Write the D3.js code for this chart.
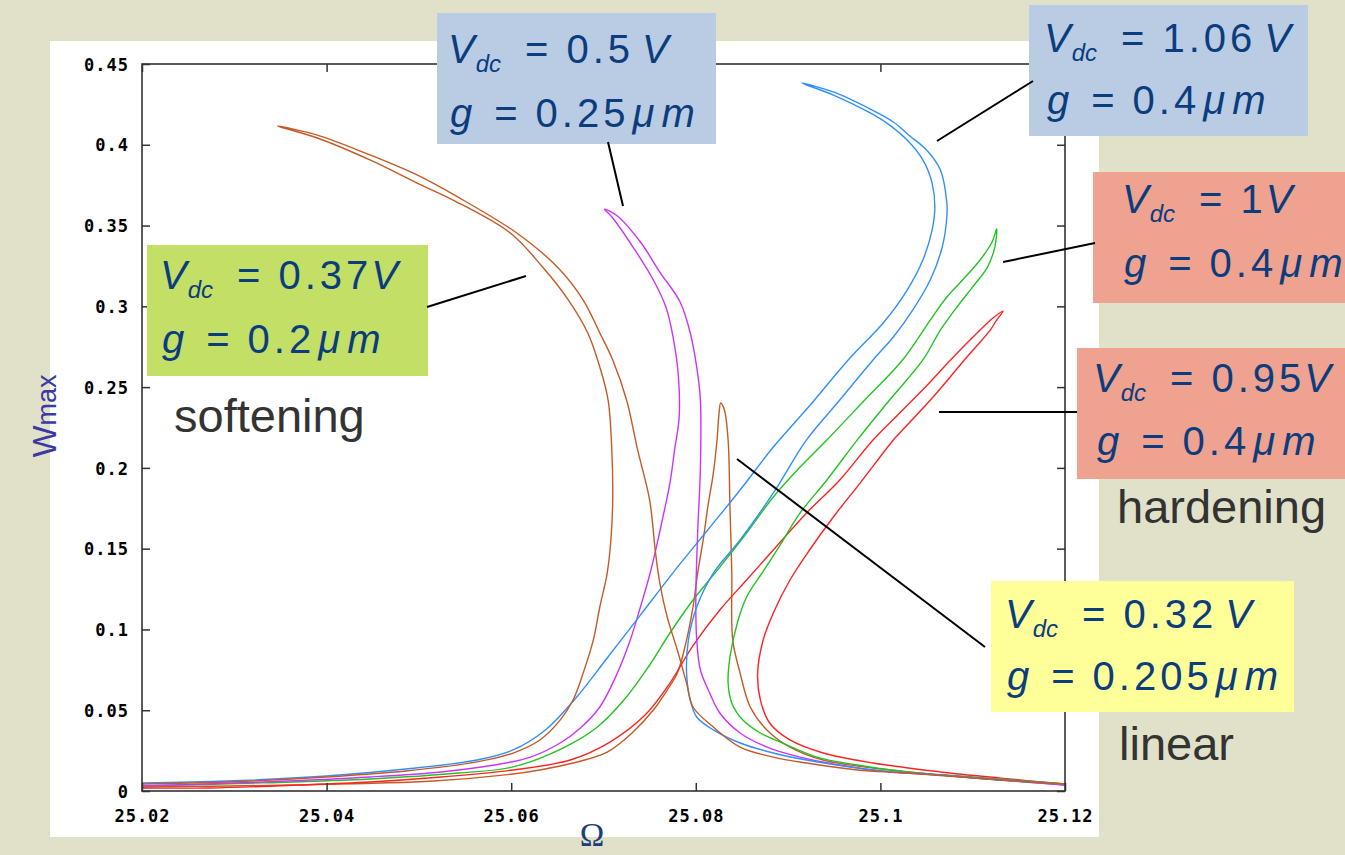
<!DOCTYPE html>
<html>
<head>
<meta charset="utf-8">
<script src="https://cdn.jsdelivr.net/npm/d3@7"></script>
<style>
  body { margin: 0; background: #e1e1c9; }
  svg { display: block; }
</style>
</head>
<body>
<div id="chart"></div>
<script>
"use strict";

// [Omega, w_max] points, one continuation path per curve
var soft037 = [
  [25.0200,0.0043],[25.0292,0.0056],[25.0400,0.0087],[25.0486,0.0124],[25.0563,0.0180],
  [25.0602,0.0235],[25.0631,0.0316],[25.0653,0.0439],[25.0667,0.0563],[25.0678,0.0730],
  [25.0689,0.0935],[25.0696,0.1139],[25.0704,0.1349],[25.0708,0.1554],[25.0710,0.1801],
  [25.0709,0.2111],[25.0705,0.2420],[25.0696,0.2624],[25.0683,0.2835],[25.0662,0.3039],
  [25.0634,0.3243],[25.0599,0.3454],[25.0537,0.3658],[25.0498,0.3763],[25.0447,0.3906],
  [25.0390,0.4042],[25.0347,0.4116],[25.0390,0.4060],[25.0447,0.3937],[25.0498,0.3813],
  [25.0542,0.3677],[25.0606,0.3454],[25.0650,0.3243],[25.0678,0.3039],[25.0696,0.2835],
  [25.0710,0.2668],[25.0725,0.2420],[25.0737,0.2111],[25.0750,0.1801],[25.0756,0.1492],
  [25.0761,0.1287],[25.0769,0.1077],[25.0780,0.0873],[25.0790,0.0668],[25.0797,0.0520],
  [25.0819,0.0396],[25.0848,0.0272],[25.0884,0.0210],[25.0920,0.0173],[25.0975,0.0130],
  [25.1029,0.0111],[25.1130,0.0068],[25.1200,0.0043]
];

var lin032 = [
  [25.0200,0.0025],[25.0361,0.0037],[25.0516,0.0062],[25.0602,0.0105],[25.0631,0.0130],
  [25.0667,0.0173],[25.0704,0.0241],[25.0732,0.0365],[25.0754,0.0501],[25.0769,0.0625],
  [25.0780,0.0730],[25.0790,0.0935],[25.0797,0.1139],[25.0802,0.1349],[25.0808,0.1554],
  [25.0813,0.1758],[25.0819,0.1968],[25.0823,0.2173],[25.0825,0.2327],[25.0827,0.2402],
  [25.0831,0.2358],[25.0835,0.2173],[25.0837,0.1758],[25.0839,0.1349],[25.0840,0.0935],
  [25.0848,0.0730],[25.0859,0.0520],[25.0877,0.0378],[25.0902,0.0272],[25.0938,0.0192],
  [25.0992,0.0142],[25.1065,0.0099],[25.1200,0.0037]
];

var vdc050 = [
  [25.0200,0.0031],[25.0331,0.0056],[25.0447,0.0087],[25.0524,0.0118],[25.0582,0.0161],
  [25.0621,0.0210],[25.0653,0.0297],[25.0675,0.0390],[25.0696,0.0520],[25.0715,0.0730],
  [25.0729,0.0935],[25.0740,0.1139],[25.0750,0.1337],[25.0759,0.1554],[25.0766,0.1739],
  [25.0772,0.1906],[25.0777,0.2111],[25.0782,0.2315],[25.0781,0.2575],[25.0776,0.2790],
  [25.0768,0.2990],[25.0754,0.3163],[25.0732,0.3367],[25.0710,0.3547],[25.0701,0.3602],
  [25.0715,0.3559],[25.0740,0.3398],[25.0761,0.3212],[25.0783,0.3027],[25.0794,0.2835],
  [25.0801,0.2624],[25.0805,0.2420],[25.0805,0.2005],[25.0802,0.1597],[25.0800,0.1182],
  [25.0801,0.0935],[25.0805,0.0749],[25.0815,0.0607],[25.0826,0.0483],[25.0848,0.0359],
  [25.0877,0.0272],[25.0913,0.0210],[25.0956,0.0161],[25.1010,0.0118],[25.1065,0.0099],
  [25.1200,0.0037]
];

var vdc106 = [
  [25.0200,0.0050],[25.0292,0.0062],[25.0400,0.0093],[25.0486,0.0136],[25.0563,0.0192],
  [25.0602,0.0254],[25.0637,0.0378],[25.0671,0.0582],[25.0704,0.0823],[25.0740,0.1089],
  [25.0775,0.1349],[25.0812,0.1609],[25.0848,0.1863],[25.0884,0.2129],[25.0924,0.2389],
  [25.0967,0.2680],[25.1003,0.2897],[25.1029,0.3101],[25.1046,0.3287],[25.1056,0.3472],
  [25.1059,0.3615],[25.1056,0.3763],[25.1046,0.3906],[25.1029,0.4029],[25.1010,0.4122],
  [25.0989,0.4197],[25.0949,0.4308],[25.0915,0.4382],[25.0949,0.4327],[25.0989,0.4221],
  [25.1014,0.4141],[25.1032,0.4054],[25.1050,0.3968],[25.1065,0.3844],[25.1072,0.3640],
  [25.1072,0.3553],[25.1067,0.3367],[25.1054,0.3163],[25.1035,0.2977],[25.1014,0.2810],
  [25.0992,0.2668],[25.0956,0.2420],[25.0920,0.2173],[25.0884,0.1845],[25.0848,0.1554],
  [25.0819,0.1349],[25.0801,0.1139],[25.0792,0.0935],[25.0790,0.0730],[25.0794,0.0563],
  [25.0801,0.0458],[25.0819,0.0378],[25.0848,0.0297],[25.0884,0.0235],[25.0920,0.0192],
  [25.0992,0.0130],[25.1065,0.0099],[25.1130,0.0068],[25.1200,0.0043]
];

var vdc100 = [
  [25.0200,0.0031],[25.0331,0.0050],[25.0447,0.0074],[25.0543,0.0111],[25.0602,0.0149],
  [25.0656,0.0266],[25.0692,0.0390],[25.0724,0.0576],[25.0750,0.0780],[25.0772,0.0978],
  [25.0797,0.1182],[25.0826,0.1386],[25.0855,0.1597],[25.0884,0.1820],[25.0913,0.2005],
  [25.0942,0.2173],[25.0983,0.2420],[25.1024,0.2668],[25.1054,0.2915],[25.1072,0.3058],
  [25.1089,0.3163],[25.1108,0.3287],[25.1121,0.3398],[25.1126,0.3479],[25.1124,0.3367],
  [25.1116,0.3243],[25.1100,0.3120],[25.1083,0.2996],[25.1065,0.2853],[25.1046,0.2668],
  [25.1010,0.2420],[25.0975,0.2173],[25.0942,0.1925],[25.0913,0.1721],[25.0890,0.1510],
  [25.0874,0.1368],[25.0855,0.1201],[25.0845,0.1040],[25.0837,0.0829],[25.0835,0.0668],
  [25.0839,0.0545],[25.0851,0.0439],[25.0870,0.0359],[25.0894,0.0297],[25.0931,0.0210],
  [25.0975,0.0161],[25.1029,0.0118],[25.1100,0.0087],[25.1200,0.0043]
];

var vdc095 = [
  [25.0200,0.0019],[25.0273,0.0019],[25.0370,0.0037],[25.0447,0.0056],[25.0524,0.0087],
  [25.0602,0.0130],[25.0664,0.0192],[25.0707,0.0303],[25.0745,0.0470],[25.0771,0.0660],
  [25.0797,0.0900],[25.0826,0.1120],[25.0855,0.1306],[25.0884,0.1492],[25.0920,0.1721],
  [25.0956,0.1925],[25.0992,0.2173],[25.1021,0.2340],[25.1054,0.2532],[25.1076,0.2668],
  [25.1108,0.2853],[25.1122,0.2928],[25.1133,0.2971],[25.1126,0.2915],[25.1119,0.2853],
  [25.1091,0.2668],[25.1059,0.2451],[25.1021,0.2216],[25.1014,0.2173],[25.0978,0.1906],
  [25.0949,0.1696],[25.0924,0.1498],[25.0902,0.1306],[25.0884,0.1102],[25.0873,0.0935],
  [25.0867,0.0730],[25.0870,0.0563],[25.0880,0.0421],[25.0902,0.0316],[25.0938,0.0235],
  [25.0992,0.0173],[25.1065,0.0118],[25.1130,0.0080],[25.1200,0.0043]
];

var xTicks = [25.02, 25.04, 25.06, 25.08, 25.1, 25.12];
var xTickLabels = ["25.02", "25.04", "25.06", "25.08", "25.1", "25.12"];
var yTicks = [0, 0.05, 0.1, 0.15, 0.2, 0.25, 0.3, 0.35, 0.4, 0.45];
var yTickLabels = ["0", "0.05", "0.1", "0.15", "0.2", "0.25", "0.3", "0.35", "0.4", "0.45"];

// annotation texts, in drawing order
var vdcLabels = ["0.37V", "0.5 V", "1.06 V", "1V", "0.95V", "0.32 V"];
var gapLabels = ["0.2", "0.25", "0.4", "0.4", "0.4", "0.205"];
var regimeLabels = ["softening", "hardening", "linear"];

// == layout ==
var W = 1345, H = 855;
var plot = { left: 142, right: 1065, top: 64, bottom: 791 };

var svg = d3.select("#chart").append("svg")
    .attr("width", W).attr("height", H);

svg.append("rect").attr("width", W).attr("height", H).attr("fill", "#e1e1c9");
svg.append("rect").attr("x", 50).attr("y", 41).attr("width", 1049).attr("height", 796)
    .attr("fill", "#fff");

var x = d3.scaleLinear().domain([25.02, 25.12]).range([plot.left, plot.right]);
var y = d3.scaleLinear().domain([0, 0.45]).range([plot.bottom, plot.top]);

svg.append("clipPath").attr("id", "clip").append("rect")
    .attr("x", plot.left).attr("y", plot.top)
    .attr("width", plot.right - plot.left).attr("height", plot.bottom - plot.top);

var line = d3.line()
    .x(function (d) { return x(d[0]); })
    .y(function (d) { return y(d[1]); })
    .curve(d3.curveCatmullRom.alpha(0.5));

var series = [
  { data: lin032, color: "#c55a26" },
  { data: vdc095, color: "#ff2222" },
  { data: vdc100, color: "#22c422" },
  { data: vdc050, color: "#cc33ff" },
  { data: vdc106, color: "#2f8fff" },
  { data: soft037, color: "#c55a26" }
];

svg.append("g").attr("clip-path", "url(#clip)")
  .selectAll("path").data(series).enter().append("path")
    .attr("d", function (d) { return line(d.data); })
    .attr("fill", "none")
    .attr("stroke", function (d) { return d.color; })
    .attr("stroke-width", 1.4);

// == axes (gnuplot style: ticks inside, mirrored) ==
var tickFont = "'DejaVu Sans Mono', monospace";

var gx = svg.append("g").attr("transform", "translate(0," + plot.bottom + ")")
    .call(d3.axisBottom(x).tickValues(xTicks)
      .tickFormat(function (d, i) { return xTickLabels[i]; })
      .tickSizeInner(-8).tickSizeOuter(0).tickPadding(19));
var gy = svg.append("g").attr("transform", "translate(" + plot.left + ",0)")
    .call(d3.axisLeft(y).tickValues(yTicks)
      .tickFormat(function (d, i) { return yTickLabels[i]; })
      .tickSizeInner(-8).tickSizeOuter(0).tickPadding(13));
var gt = svg.append("g").attr("transform", "translate(0," + plot.top + ")")
    .call(d3.axisTop(x).tickValues(xTicks).tickFormat("").tickSizeInner(-8).tickSizeOuter(0));
var gr = svg.append("g").attr("transform", "translate(" + plot.right + ",0)")
    .call(d3.axisRight(y).tickValues(yTicks).tickFormat("").tickSizeInner(-8).tickSizeOuter(0));

[gx, gy, gt, gr].forEach(function (g) {
  g.select(".domain").remove();
  g.selectAll(".tick line").attr("stroke", "#333").attr("stroke-width", 1.5);
  g.selectAll(".tick text")
    .attr("fill", "#000")
    .attr("font-family", tickFont)
    .attr("font-weight", "bold")
    .attr("font-size", 17)
    .style("letter-spacing", "1px");
});
gy.selectAll(".tick text").attr("dy", "0.36em");

svg.append("rect")
    .attr("x", plot.left).attr("y", plot.top)
    .attr("width", plot.right - plot.left).attr("height", plot.bottom - plot.top)
    .attr("fill", "none").attr("stroke", "#333").attr("stroke-width", 1.6);

// axis titles
var yt = svg.append("text")
    .attr("transform", "translate(56,416) rotate(-90)")
    .attr("text-anchor", "middle")
    .attr("fill", "#3a3aa6")
    .style("font-family", "'Liberation Sans', Arial, sans-serif");
yt.append("tspan").style("font-size", "34px").text("W");
yt.append("tspan").style("font-size", "27px").text("max");

svg.append("text")
    .attr("x", 592).attr("y", 846)
    .attr("text-anchor", "middle")
    .attr("fill", "#1b3f7c")
    .style("font-family", "'Liberation Serif', 'Times New Roman', serif")
    .style("font-size", "33px")
    .text("\u03A9");

// regime words
var regimePos = [[174, 432], [1117, 523], [1119, 760]];
svg.selectAll(".regime").data(regimeLabels).enter().append("text")
    .attr("class", "regime")
    .attr("x", function (d, i) { return regimePos[i][0]; })
    .attr("y", function (d, i) { return regimePos[i][1]; })
    .attr("fill", "#333")
    .style("font-family", "'Liberation Sans', Arial, sans-serif")
    .style("font-size", "47px")
    .text(function (d) { return d; });

// == annotation boxes ==
var notes = [
  { fill: "#c3df66", box: [147, 245, 281, 131], vx: 160, gx: 162, b1: 289, b2: 353, ptr: [427, 307, 526, 276] },
  { fill: "#b9cce4", box: [437, 13, 279, 131], vx: 448, gx: 450, b1: 63, b2: 127, ptr: [608, 142, 623, 206] },
  { fill: "#b9cce4", box: [1029, 5, 279, 131], vx: 1044, gx: 1047, b1: 52, b2: 114, ptr: [1033, 81, 937, 141] },
  { fill: "#eea28f", box: [1093, 172, 260, 131], vx: 1122, gx: 1124, b1: 213, b2: 277, ptr: [1095, 243, 1003, 262] },
  { fill: "#eea28f", box: [1077, 348, 270, 131], vx: 1093, gx: 1097, b1: 392, b2: 455, ptr: [1077, 412, 939, 412] },
  { fill: "#ffff99", box: [991, 581, 303, 131], vx: 1005, gx: 1007, b1: 628, b2: 690, ptr: [737, 459, 985, 647] }
];

var noteFont = "'Liberation Sans', Arial, sans-serif";
var noteColor = "#0b3d7e";

notes.forEach(function (n, i) {
  var g = svg.append("g");
  g.append("rect")
    .attr("x", n.box[0]).attr("y", n.box[1])
    .attr("width", n.box[2]).attr("height", n.box[3])
    .attr("fill", n.fill);

  var num = vdcLabels[i].match(/[\d.]+/)[0];
  var spaced = vdcLabels[i].indexOf(" ") >= 0;

  var t1 = g.append("text").attr("x", n.vx).attr("y", n.b1)
      .attr("fill", noteColor).style("font-family", noteFont).style("font-size", "40px");
  t1.append("tspan").style("font-style", "italic").text("V");
  t1.append("tspan").style("font-style", "italic").style("font-size", "24px")
      .attr("dx", 1).attr("dy", 9).text("dc");
  t1.append("tspan").attr("dx", 24).attr("dy", -9).text("=");
  t1.append("tspan").attr("dx", 18).style("letter-spacing", "4px").text(num);
  t1.append("tspan").attr("dx", spaced ? 8 : -1).style("font-style", "italic").text("V");

  var t2 = g.append("text").attr("x", n.gx).attr("y", n.b2)
      .attr("fill", noteColor).style("font-family", noteFont).style("font-size", "40px");
  t2.append("tspan").style("font-style", "italic").text("g");
  t2.append("tspan").attr("dx", 22).text("=");
  t2.append("tspan").attr("dx", 18).style("letter-spacing", "4px").text(gapLabels[i]);
  t2.append("tspan").attr("dx", 3).style("font-style", "italic").text("\u03BC");
  t2.append("tspan").attr("dx", 7).style("font-style", "italic").text("m");
});

// pointer lines on top
svg.selectAll(".ptr").data(notes).enter().append("line")
    .attr("class", "ptr")
    .attr("x1", function (d) { return d.ptr[0]; })
    .attr("y1", function (d) { return d.ptr[1]; })
    .attr("x2", function (d) { return d.ptr[2]; })
    .attr("y2", function (d) { return d.ptr[3]; })
    .attr("stroke", "#000").attr("stroke-width", 2);
</script>
</body>
</html>
